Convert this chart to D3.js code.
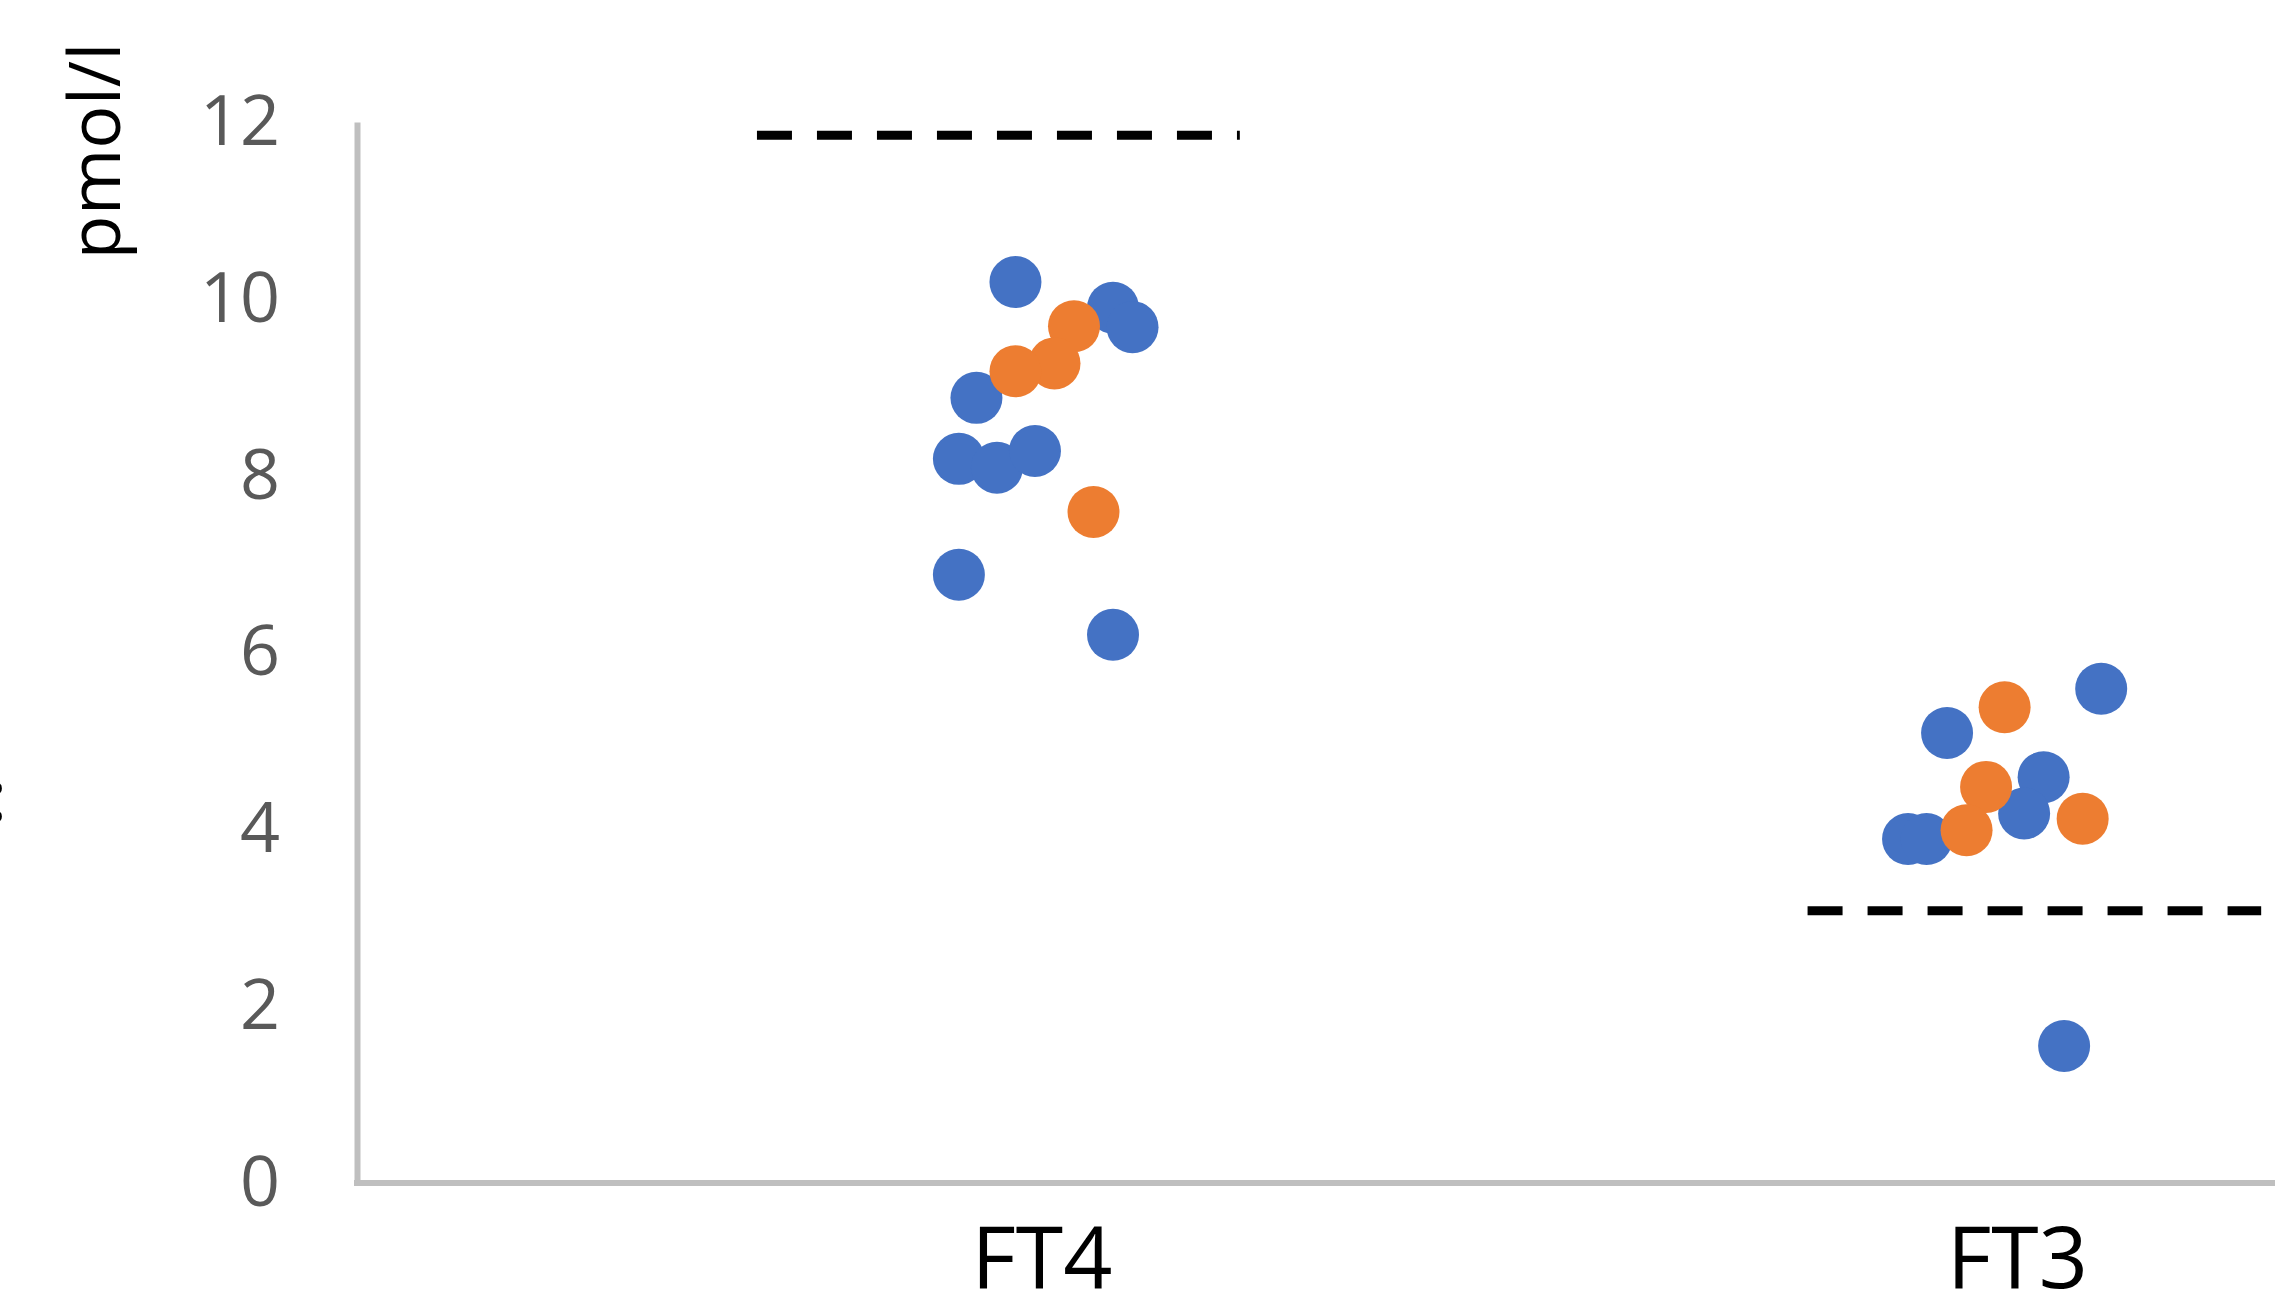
<!DOCTYPE html>
<html>
<head>
<meta charset="utf-8">
<script src="https://cdn.jsdelivr.net/npm/d3@7"></script>
<style>
  html, body { margin: 0; padding: 0; background: #fff; }
  svg { display: block; }
</style>
</head>
<body>
<div id="chart"></div>
<script>
// categories and their x position (jitter axis)
const categories = ["FT4", "FT3"];
const categoryX = [1, 2];
const yTicks = [0, 2, 4, 6, 8, 10, 12];

// blue series
const blueX = [0.975, 1.075, 1.095, 0.935, 0.917, 0.956, 0.995, 0.917, 1.075,
               2.088, 1.930, 2.029, 2.009, 1.890, 1.909, 2.050];
const blueY = [10.19, 9.90, 9.68, 8.88, 8.19, 8.09, 8.28, 6.88, 6.20,
               5.59, 5.09, 4.59, 4.18, 3.89, 3.89, 1.55];

// orange series
const orangeX = [1.035, 1.015, 0.975, 1.055,
                 1.989, 1.970, 2.069, 1.950];
const orangeY = [9.69, 9.27, 9.18, 7.59,
                 5.38, 4.48, 4.12, 3.99];

// reference limits (dashed)
const refX0 = [0.71, 1.787];
const refX1 = [1.205, 2.252];
const refY = [11.85, 3.08];

const W = 2275, H = 1296;

const svg = d3.select("#chart").append("svg")
    .attr("width", W)
    .attr("height", H);

const x = d3.scaleLinear()
    .domain([0.3, 2.3])
    .range([357, 2308]);

const y = d3.scaleLinear()
    .domain([0, 12])
    .range([1183, 122]);

// y axis
const yAxis = svg.append("g")
    .attr("transform", `translate(${x(0.3)},0)`)
    .call(d3.axisLeft(y).tickValues(yTicks).tickSize(0).tickPadding(77));
yAxis.select(".domain").attr("stroke", "#bfbfbf").attr("stroke-width", 6);
yAxis.selectAll("text")
    .attr("fill", "#595959")
    .style("font-family", "'Open Sans', sans-serif")
    .style("font-size", "70px");

// x axis line
svg.append("line")
    .attr("x1", x(0.3) - 3).attr("x2", W)
    .attr("y1", y(0)).attr("y2", y(0))
    .attr("stroke", "#bfbfbf")
    .attr("stroke-width", 6);

// category labels
svg.selectAll(".cat")
    .data(categories)
    .enter().append("text")
    .attr("class", "cat")
    .attr("x", (d, i) => x(categoryX[i]) + 2)
    .attr("y", 1288)
    .attr("text-anchor", "middle")
    .style("font-family", "'Open Sans', sans-serif")
    .style("font-size", "86px")
    .attr("fill", "#000")
    .text(d => d);

// y axis title
svg.append("text")
    .attr("transform", `translate(120,151) rotate(-90)`)
    .attr("text-anchor", "middle")
    .style("font-family", "'Open Sans', sans-serif")
    .style("font-size", "72px")
    .attr("fill", "#000")
    .text("pmol/l");

// cut-off fragment at the left edge
svg.append("text")
    .attr("x", 6)
    .attr("y", 822)
    .attr("text-anchor", "end")
    .style("font-family", "'Open Sans', sans-serif")
    .style("font-size", "72px")
    .style("font-weight", "bold")
    .attr("fill", "#000")
    .text(":");

// dashed reference lines
svg.selectAll(".ref")
    .data(refY)
    .enter().append("line")
    .attr("class", "ref")
    .attr("x1", (d, i) => x(refX0[i]))
    .attr("x2", (d, i) => x(refX1[i]))
    .attr("y1", d => y(d))
    .attr("y2", d => y(d))
    .attr("stroke", "#000")
    .attr("stroke-width", 9)
    .attr("stroke-dasharray", "35 25");

// dots
svg.selectAll(".blue")
    .data(blueY)
    .enter().append("circle")
    .attr("class", "blue")
    .attr("cx", (d, i) => x(blueX[i]))
    .attr("cy", d => y(d))
    .attr("r", 26)
    .attr("fill", "#4472c4");

svg.selectAll(".orange")
    .data(orangeY)
    .enter().append("circle")
    .attr("class", "orange")
    .attr("cx", (d, i) => x(orangeX[i]))
    .attr("cy", d => y(d))
    .attr("r", 26)
    .attr("fill", "#ed7d31");
</script>
</body>
</html>
